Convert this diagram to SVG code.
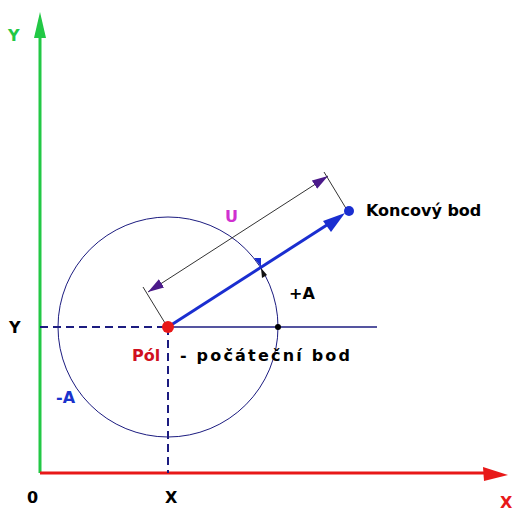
<svg xmlns="http://www.w3.org/2000/svg" width="517" height="511" viewBox="0 0 517 511">
<style>
text{font-family:"DejaVu Sans","Liberation Sans",sans-serif;font-weight:bold;font-size:16px}
.nv{stroke:#1c1c80;fill:none}
.dash{stroke:#1c1c80;stroke-width:2;stroke-dasharray:8,5;fill:none}
.dim{stroke:#333;stroke-width:1;fill:none}
</style>
<defs>
<marker id="pm" viewBox="0 0 10 6" refX="10" refY="3" markerWidth="16" markerHeight="10" markerUnits="userSpaceOnUse" orient="auto-start-reverse"><path d="M0,0 L10,3 L0,6 z" fill="#4b1a8a"/></marker>
</defs>
<rect width="517" height="511" fill="#fff"/>
<g id="axes">
<line x1="40" y1="473" x2="40" y2="30" stroke="#22c845" stroke-width="3"/>
<path d="M40,12 L46,38 L34,38 z" fill="#22c845"/>
<line x1="40" y1="473" x2="490" y2="473" stroke="#e81818" stroke-width="3"/>
<path d="M508,475 L483,467 L484,481 z" fill="#e81818"/>
<text x="8" y="41" fill="#22c845">Y</text>
<text x="500" y="508" fill="#e81818" font-size="15">X</text>
<text x="27" y="503" fill="#000">0</text>
<text x="165" y="503" fill="#000">X</text>
<text x="9" y="333" fill="#000">Y</text>
</g>
<g id="connectors">
<line class="dash" x1="40" y1="327" x2="168" y2="327"/>
<line class="dash" x1="168" y1="327" x2="168" y2="473"/>
<line class="nv" x1="168" y1="327" x2="377" y2="327" stroke-width="1.3"/>
<circle class="nv" cx="168" cy="327" r="110" stroke="#3a3a7a" stroke-width="1"/>
<line class="dim" x1="165" y1="323" x2="143" y2="287"/>
<line class="dim" x1="347" y1="210" x2="324" y2="172"/>
<line class="dim" x1="148" y1="292" x2="328" y2="176" marker-start="url(#pm)" marker-end="url(#pm)"/>
<line x1="168" y1="327" x2="330" y2="223" stroke="#1a2ed0" stroke-width="3"/>
<path d="M345,213 L323,221 L331,232 z" fill="#1a2ed0"/>
<path d="M261,267 L254,258 L261,258 z" fill="#1a2ed0"/>
<path d="M261,268 L262,278 L267,275 z" fill="#111"/>
</g>
<g id="pol">
<circle cx="168" cy="327" r="6" fill="#e81818"/>
<text x="132" y="361" fill="#d01020">Pól</text>
<text x="180" y="361" fill="#000" font-size="17" textLength="170" lengthAdjust="spacing">- počáteční bod</text>
</g>
<g id="konec">
<circle cx="349" cy="211" r="5" fill="#1a2ed0"/>
<text x="366" y="216" fill="#000">Koncový bod</text>
</g>
<g id="labels">
<circle cx="278" cy="327" r="3" fill="#000"/>
<text x="289" y="299" fill="#000">+A</text>
<text x="225" y="222" fill="#d030d0">U</text>
<text x="56" y="403" fill="#1a33cc">-A</text>
</g>
</svg>
